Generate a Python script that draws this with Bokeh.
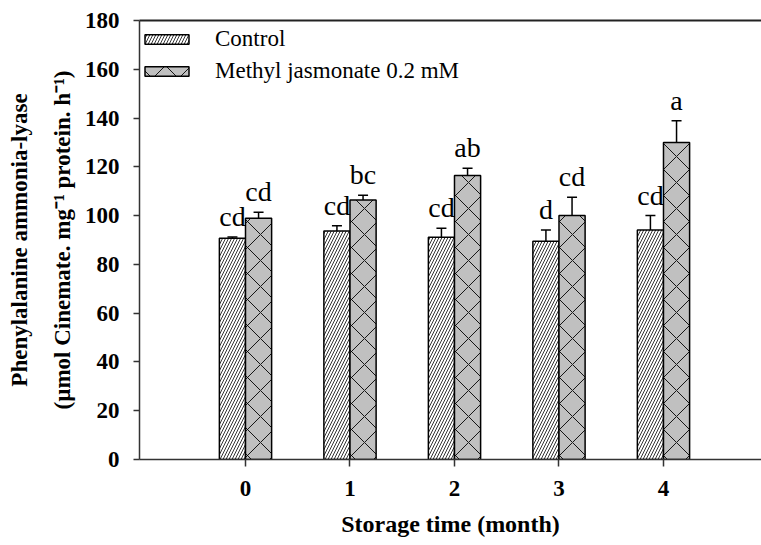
from bokeh.plotting import figure
from bokeh.models import (Range1d, FixedTicker, LinearAxis, Whisker, TeeHead,
                          ColumnDataSource, Legend, LegendItem)
from bokeh.embed import file_html
from bokeh.resources import INLINE
from bokeh.core.properties import value

# ---- data ----
months = [0, 1, 2, 3, 4]
control = [90.7, 93.7, 91.1, 89.5, 94.1]
control_err = [0.5, 2.1, 3.7, 4.6, 5.9]
control_letters = ["cd", "cd", "cd", "d", "cd"]
meja = [98.9, 106.4, 116.4, 100.0, 130.0]
meja_err = [2.5, 1.9, 3.0, 7.5, 8.9]
meja_letters = ["cd", "bc", "ab", "cd", "a"]
y_ticks = [0, 20, 40, 60, 80, 100, 120, 140, 160, 180]
series_names = ["Control", "Methyl jasmonate 0.2 mM"]

BAR_W = 0.25
FONT = "Liberation Serif"

src_c = ColumnDataSource(dict(
    x=[m - BAR_W / 2 for m in months], val=control,
    hi=[v + e for v, e in zip(control, control_err)], lab=control_letters))
src_m = ColumnDataSource(dict(
    x=[m + BAR_W / 2 for m in months], val=meja,
    hi=[v + e for v, e in zip(meja, meja_err)], lab=meja_letters))

p = figure(width=761, height=545,
           x_range=Range1d(-1.0144, 4.938), y_range=Range1d(0, 180),
           output_backend="svg", toolbar_location=None,
           min_border_left=139, min_border_right=0,
           min_border_top=20, min_border_bottom=86)
p.grid.visible = False
p.outline_line_color = None
p.background_fill_color = "white"
p.border_fill_color = "white"

rc = p.vbar(x="x", top="val", width=BAR_W, source=src_c,
            fill_color="white", line_color="black", line_width=1.5,
            hatch_pattern="right_diagonal_line", hatch_color="black",
            hatch_scale=6, hatch_weight=0.8)
rm = p.vbar(x="x", top="val", width=BAR_W, source=src_m,
            fill_color="#c0c0c0", line_color="black", line_width=1.5,
            hatch_pattern="diagonal_cross", hatch_color="black",
            hatch_scale=26, hatch_weight=0.9)

for src in (src_c, src_m):
    w = Whisker(base="x", lower="val", upper="hi", source=src,
                dimension="height", line_color="black", line_width=1.5,
                lower_head=None,
                upper_head=TeeHead(size=10, line_color="black", line_width=1.5))
    w.level = "overlay"
    p.add_layout(w)
    p.text(x="x", y="hi", text="lab", source=src,
           text_font=value(FONT), text_font_size="28px",
           text_align="center", text_baseline="bottom",
           y_offset=-5, text_color="black")

# x axis
xax = p.xaxis[0]
xax.ticker = FixedTicker(ticks=months)
xax.axis_label = "Storage time (month)"
xax.axis_line_color = "#333333"
xax.axis_line_width = 1.5
xax.major_tick_line_color = "#333333"
xax.major_tick_line_width = 1.5
xax.major_tick_in = 0
xax.major_tick_out = 7
xax.minor_tick_in = 0
xax.minor_tick_out = 0
xax.major_label_text_font = FONT
xax.major_label_text_font_style = "bold"
xax.major_label_text_font_size = "23px"
xax.major_label_text_color = "black"
xax.major_label_standoff = 14
xax.axis_label_text_font = FONT
xax.axis_label_text_font_style = "bold"
xax.axis_label_text_font_size = "24px"
xax.axis_label_text_color = "black"
xax.axis_label_standoff = 12

# y axis (inner, with second label line)
yax = p.yaxis[0]
yax.ticker = FixedTicker(ticks=y_ticks)
yax.axis_label = "(µmol Cinemate. mg⁻¹ protein. h⁻¹)"
yax.axis_line_color = "#333333"
yax.axis_line_width = 1.5
yax.major_tick_line_color = "#333333"
yax.major_tick_line_width = 1.5
yax.major_tick_in = 0
yax.major_tick_out = 6
yax.minor_tick_in = 0
yax.minor_tick_out = 0
yax.major_label_text_font = FONT
yax.major_label_text_font_style = "bold"
yax.major_label_text_font_size = "23px"
yax.major_label_text_color = "black"
yax.major_label_standoff = 14
yax.axis_label_text_font = FONT
yax.axis_label_text_font_style = "bold"
yax.axis_label_text_font_size = "23px"
yax.axis_label_text_color = "black"
yax.axis_label_standoff = 7

# outer y label line
ylab1 = LinearAxis(ticker=FixedTicker(ticks=[]), axis_line_color=None,
                   major_tick_line_color=None, minor_tick_line_color=None,
                   major_label_text_font_size="0px",
                   axis_label="Phenylalanine ammonia-lyase",
                   axis_label_text_font=FONT,
                   axis_label_text_font_style="bold",
                   axis_label_text_font_size="23px",
                   axis_label_text_color="black",
                   axis_label_standoff=15)
p.add_layout(ylab1, "left")

# top frame line
top = LinearAxis(ticker=FixedTicker(ticks=[]), major_tick_out=0, major_tick_in=0,
                 minor_tick_out=0, minor_tick_in=0,
                 major_label_text_font_size="0px",
                 axis_line_color="#222222", axis_line_width=2)
p.add_layout(top, "above")

legend = Legend(items=[LegendItem(label=series_names[0], renderers=[rc]),
                       LegendItem(label=series_names[1], renderers=[rm])],
                location="top_left", margin=0, padding=7, spacing=6,
                glyph_width=55, glyph_height=12, label_height=25,
                label_standoff=21,
                title=" ", title_text_font_size="6px", title_standoff=0,
                label_text_font=FONT, label_text_font_size="23px",
                label_text_color="black",
                border_line_color=None, background_fill_alpha=0)
p.add_layout(legend)

open("out.html", "w").write(file_html(p, INLINE))
